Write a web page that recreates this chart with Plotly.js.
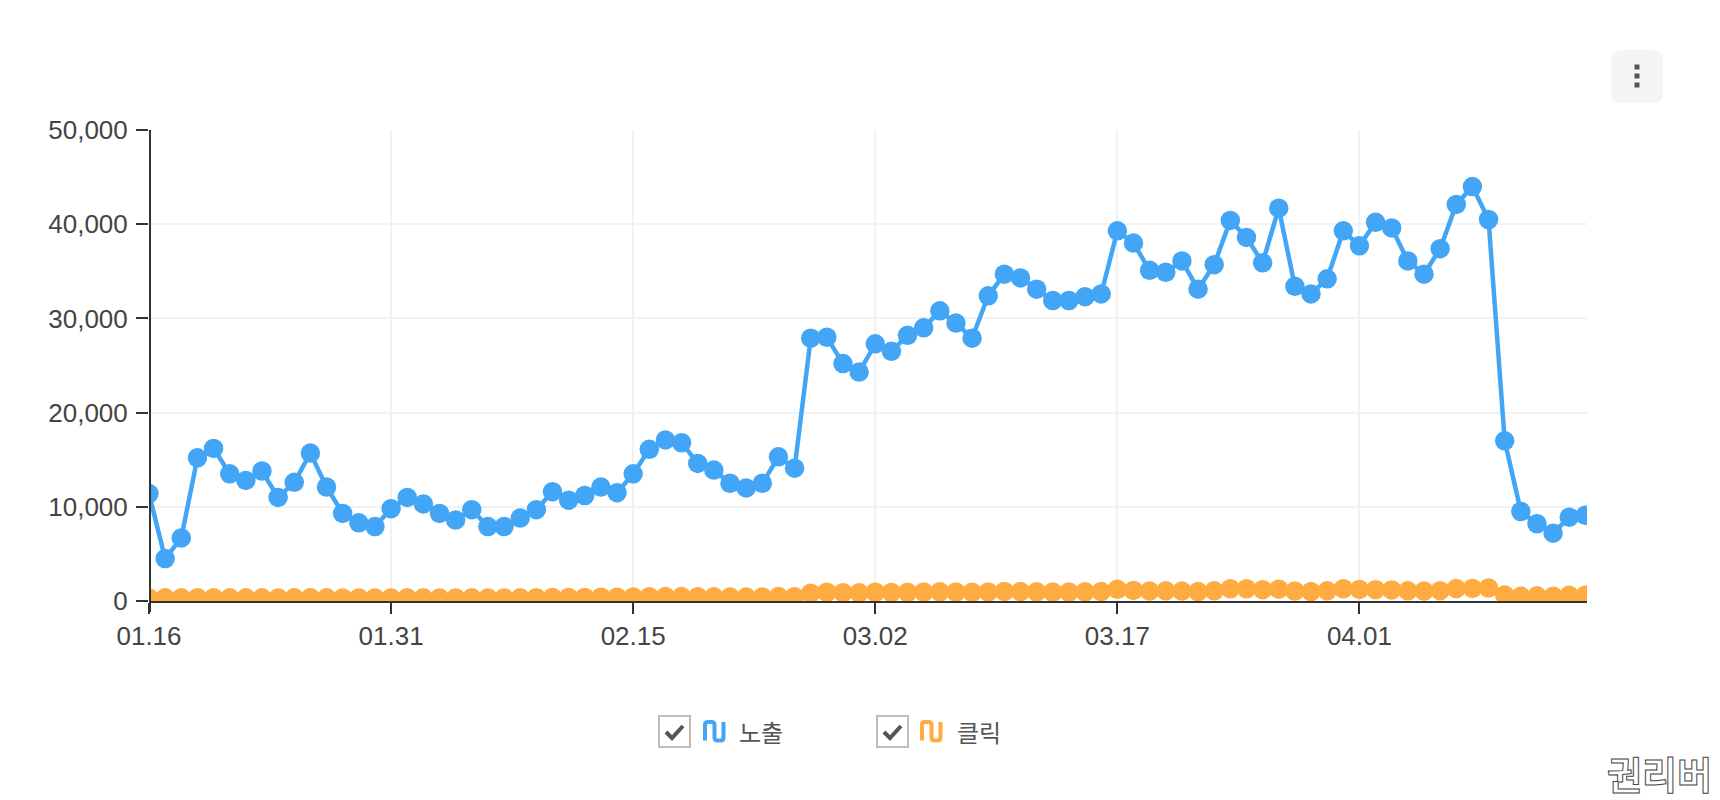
<!DOCTYPE html>
<html><head><meta charset="utf-8">
<script src="https://cdn.plot.ly/plotly-3.0.1.min.js"></script>
<style>
html,body{margin:0;padding:0;background:#fff;width:1720px;height:800px;overflow:hidden}
#chart{position:absolute;left:0;top:0;width:1720px;height:800px}
#mark{position:absolute;left:1607px;top:745px;font:700 38px "Noto Sans CJK KR";color:#fff;-webkit-text-stroke:1px #444;letter-spacing:0}
</style></head><body>
<div id="chart"></div><div id="mark">권리버</div>
<script>
const impressions = [11400,4500,6700,15200,16200,13500,12800,13800,11000,12600,15700,12100,9300,8300,7900,9800,11000,10300,9300,8600,9700,7900,7900,8800,9700,11600,10700,11200,12100,11500,13500,16100,17100,16800,14600,13900,12500,12000,12500,15300,14100,27900,28000,25200,24300,27300,26500,28200,29000,30800,29500,27900,32400,34700,34300,33100,31900,31900,32300,32600,39300,38000,35100,34900,36100,33100,35700,40400,38600,35900,41700,33400,32600,34200,39300,37700,40200,39600,36100,34700,37400,42100,44000,40500,17000,9500,8200,7200,8900,9100];
const clicks = [320,340,340,350,350,340,340,340,330,340,350,340,330,320,320,330,340,340,330,330,340,330,330,340,350,370,370,380,400,400,430,450,470,470,450,440,420,420,430,470,460,830,930,880,870,930,910,920,950,980,950,920,960,1020,1000,980,950,950,970,1000,1240,1120,1050,1080,1050,1000,1080,1300,1300,1200,1250,1050,1000,1080,1300,1230,1200,1180,1080,1050,1100,1320,1340,1380,650,500,550,500,600,620];
const dates = ["01.16","01.17","01.18","01.19","01.20","01.21","01.22","01.23","01.24","01.25","01.26","01.27","01.28","01.29","01.30","01.31","02.01","02.02","02.03","02.04","02.05","02.06","02.07","02.08","02.09","02.10","02.11","02.12","02.13","02.14","02.15","02.16","02.17","02.18","02.19","02.20","02.21","02.22","02.23","02.24","02.25","02.26","02.27","02.28","03.01","03.02","03.03","03.04","03.05","03.06","03.07","03.08","03.09","03.10","03.11","03.12","03.13","03.14","03.15","03.16","03.17","03.18","03.19","03.20","03.21","03.22","03.23","03.24","03.25","03.26","03.27","03.28","03.29","03.30","03.31","04.01","04.02","04.03","04.04","04.05","04.06","04.07","04.08","04.09","04.10","04.11","04.12","04.13","04.14","04.15"];
const xTicks = ["01.16","01.31","02.15","03.02","03.17","04.01"];
const yTicks = [0,10000,20000,30000,40000,50000];
const BLUE="#42a5f5", ORANGE="#ffab40";
const idx = dates.map((_,i)=>i);
const line = (y,name,c)=>({x:idx,y,name,type:"scatter",mode:"lines+markers",line:{color:c,width:4.5},marker:{color:c,size:19.5},hoverinfo:"x+y"});
const W=1720,H=800,L=149,R=133,T=130,B=199;
const px=x=>(x-L)/(W-L-R),py=y=>1-(y-T)/(H-T-B);
function legendShapes(x0,ix,c){
  const y0=716, m=(x,y)=>px(x)+","+py(y);
  const a=ix+2, b=ix+11.5, d=ix+20.5, t=722, u=740.5;
  return [
   {type:"rect",xref:"paper",yref:"paper",x0:px(x0),x1:px(x0+31),y0:py(y0),y1:py(y0+31),line:{color:"#bdbdbd",width:2},fillcolor:"#fff"},
   {type:"path",xref:"paper",yref:"paper",path:"M"+m(x0+7,y0+16)+" L"+m(x0+13,y0+22)+" L"+m(x0+24,y0+10),line:{color:"#555",width:4}},
   {type:"path",xref:"paper",yref:"paper",line:{color:c,width:4},
    path:"M"+m(a,u)+" L"+m(a,t+3)+" Q"+m(a,t)+" "+m(a+3,t)+" L"+m(b-3,t)+" Q"+m(b,t)+" "+m(b,t+3)+" L"+m(b,u-3)+" Q"+m(b,u)+" "+m(b+3,u)+" L"+m(d-3,u)+" Q"+m(d,u)+" "+m(d,u-3)+" L"+m(d,t)}
  ];
}
const layout={
 width:W,height:H,paper_bgcolor:"#fff",plot_bgcolor:"#fff",showlegend:false,
 margin:{l:L,r:R,t:T,b:B},
 font:{family:"Liberation Sans, Arial, sans-serif",size:26,color:"#444"},
 xaxis:{type:"linear",range:[0,89.1],tickmode:"array",tickvals:xTicks.map(t=>dates.indexOf(t)),ticktext:xTicks,
   showgrid:true,gridcolor:"#f2f2f2",gridwidth:1.5,ticks:"outside",ticklen:11,tickwidth:2,tickcolor:"#333",
   showline:true,linecolor:"#333",linewidth:2,zeroline:false,tickfont:{size:26,color:"#444"},ticklabelstandoff:0},
 yaxis:{range:[0,50000],tickmode:"array",tickvals:yTicks,ticktext:yTicks.map(v=>v.toLocaleString("en-US")),
   showgrid:true,gridcolor:"#f2f2f2",gridwidth:1.5,ticks:"outside",ticklen:12,tickwidth:2,tickcolor:"#333",
   showline:false,zeroline:false,tickfont:{size:26,color:"#444"},ticklabelstandoff:3},
 shapes:[
   {type:"line",xref:"paper",yref:"paper",x0:px(150),x1:px(150),y0:py(130),y1:py(612),line:{color:"#333",width:2}},
   {type:"path",xref:"paper",yref:"paper",layer:"below",fillcolor:"#f5f5f5",line:{width:0},
    path:(()=>{const x0=1611,x1=1663,y0=50,y1=103,r=10;
      return "M"+px(x0+r)+","+py(y0)+" L"+px(x1-r)+","+py(y0)+" Q"+px(x1)+","+py(y0)+" "+px(x1)+","+py(y0+r)+" L"+px(x1)+","+py(y1-r)+" Q"+px(x1)+","+py(y1)+" "+px(x1-r)+","+py(y1)+" L"+px(x0+r)+","+py(y1)+" Q"+px(x0)+","+py(y1)+" "+px(x0)+","+py(y1-r)+" L"+px(x0)+","+py(y0+r)+" Q"+px(x0)+","+py(y0)+" "+px(x0+r)+","+py(y0)+" Z";})()},
   ...[67,76,85].map(y=>({type:"rect",xref:"paper",yref:"paper",x0:px(1634.5),x1:px(1639.5),y0:py(y-2.5),y1:py(y+2.5),fillcolor:"#555",line:{width:0}})),
   ...legendShapes(659,703,BLUE),...legendShapes(877,920,ORANGE)
 ],
 annotations:[
  {xref:"paper",yref:"paper",x:px(737),y:py(731),text:"노출",showarrow:false,xanchor:"left",yanchor:"middle",font:{family:"Noto Sans CJK KR",size:24,color:"#555"}},
  {xref:"paper",yref:"paper",x:px(955),y:py(731),text:"클릭",showarrow:false,xanchor:"left",yanchor:"middle",font:{family:"Noto Sans CJK KR",size:24,color:"#555"}}
 ]
};
Plotly.newPlot("chart",[line(impressions,"노출",BLUE),line(clicks,"클릭",ORANGE)],layout,{displayModeBar:false,responsive:false});
</script></body></html>
